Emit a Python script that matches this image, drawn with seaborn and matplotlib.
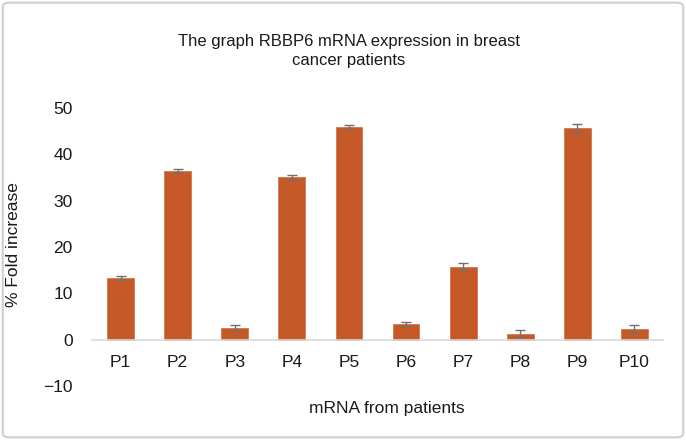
import numpy as np
import pandas as pd
import matplotlib
matplotlib.use("Agg")
import matplotlib.pyplot as plt
from matplotlib.patches import FancyBboxPatch
import seaborn as sns

patients = ["P1", "P2", "P3", "P4", "P5", "P6", "P7", "P8", "P9", "P10"]
fold_increase = [13.3, 36.4, 2.5, 35.0, 46.0, 3.4, 15.7, 1.2, 45.7, 2.3]
errors = [0.4, 0.4, 0.6, 0.6, 0.4, 0.5, 0.8, 0.8, 0.8, 0.8]
y_ticks = [-10, 0, 10, 20, 30, 40, 50]

title = "The graph RBBP6 mRNA expression in breast\ncancer patients"
xlabel = "mRNA from patients"
ylabel = "% Fold increase"

sns.set_theme(style="white")
plt.rcParams["font.family"] = ["Liberation Sans", "DejaVu Sans"]
text_color = "#1a1a1a"

df = pd.DataFrame({"patient": patients, "value": fold_increase})

fig = plt.figure(figsize=(6.86, 4.40), dpi=100)
ax = fig.add_axes([92 / 686, 1 - 386 / 440, (663 - 92) / 686, (386 - 108) / 440])

sns.barplot(data=df, x="patient", y="value", color="#C55A28", width=0.47,
            saturation=1, ax=ax, errorbar=None, edgecolor="#D2774A", linewidth=0.6)
ax.errorbar(np.arange(len(patients)), fold_increase, yerr=errors, fmt="none",
            ecolor="#707070", elinewidth=1.0, capsize=3.3, capthick=1.0)

ax.set_ylim(-10, 50)
ax.set_xlim(-0.5, len(patients) - 0.5)
ax.set_yticks(y_ticks)
ax.set_yticklabels(["\u221210" if t < 0 else str(t) for t in y_ticks])

for s in ["top", "right", "left"]:
    ax.spines[s].set_visible(False)
ax.spines["bottom"].set_position(("data", 0))
ax.spines["bottom"].set_color("#d9d9d9")
ax.spines["bottom"].set_linewidth(1.2)
ax.tick_params(axis="x", length=0, pad=11, labelsize=12.5, labelcolor=text_color)
ax.tick_params(axis="y", length=0, pad=14, labelsize=12.5, labelcolor=text_color)

ax.set_xlabel("")
ax.set_ylabel("")
fig.text(387 / 686, 1 - 408 / 440, xlabel, ha="center", va="center", fontsize=12.5, color=text_color)
fig.text(14 / 686, 1 - 245 / 440, ylabel, ha="center", va="center", rotation=90, fontsize=12.5, color=text_color)
fig.text(349 / 686, 1 - 51 / 440, title, ha="center", va="center", fontsize=12, color=text_color,
         linespacing=1.35)

border = FancyBboxPatch((0.004, 0.006), 0.992, 0.988, boxstyle="round,pad=0,rounding_size=0.01",
                        transform=fig.transFigure, facecolor="none", edgecolor="#cfcfcf", linewidth=1.5)
fig.patches.append(border)

fig.savefig("out.png", dpi=100)
